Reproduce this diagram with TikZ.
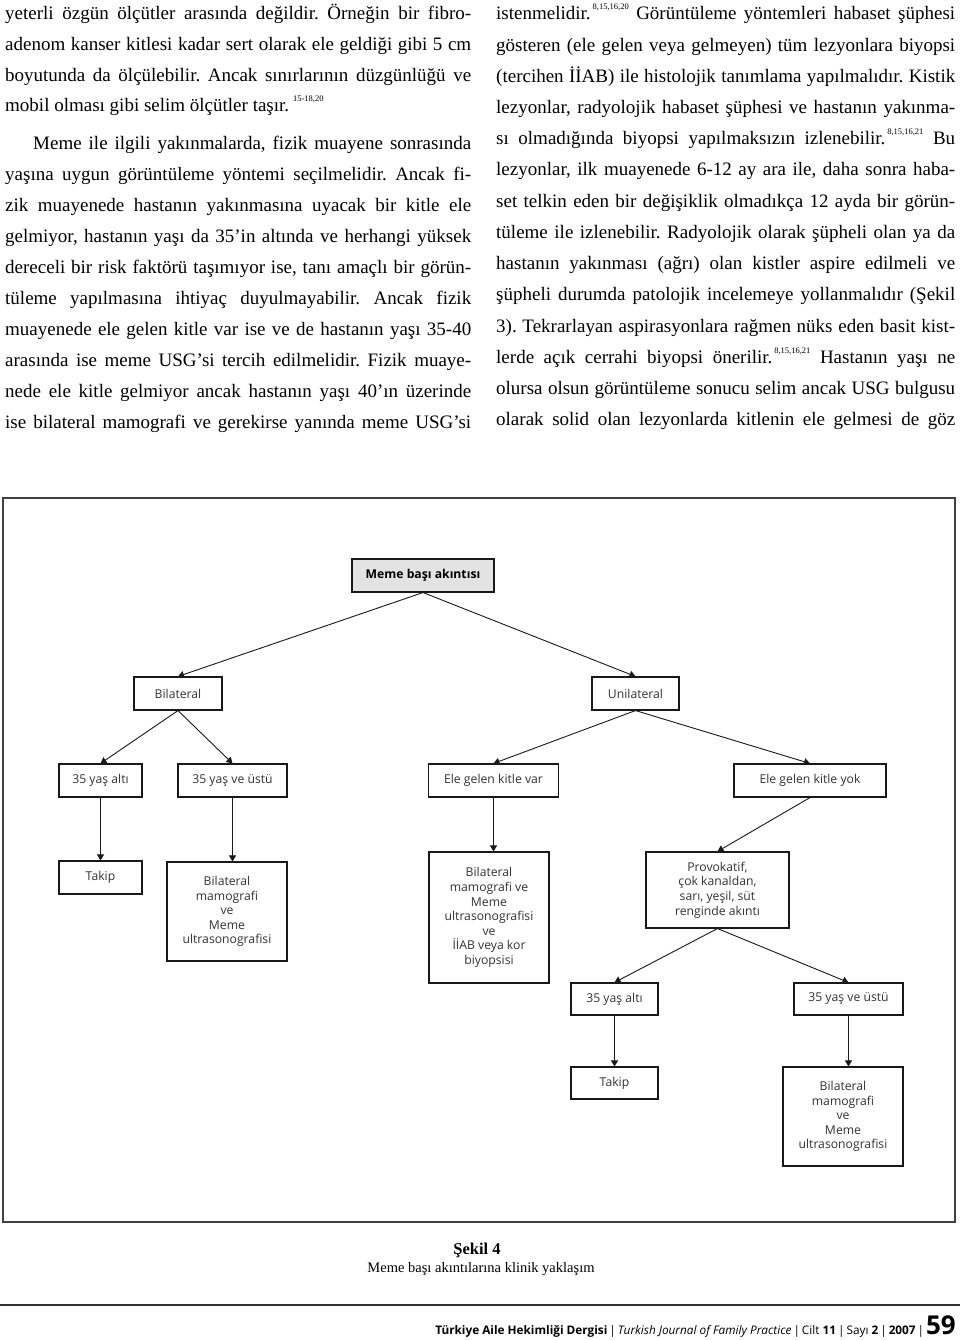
\documentclass[tikz,border=0pt]{standalone}
\usepackage{fontspec}
\setmainfont{Liberation Serif}
\newfontfamily\chartfont{Open Sans}
\usetikzlibrary{arrows.meta}
\frenchspacing

\newcommand{\supnum}[1]{\raisebox{10pt}{\fontsize{8.5}{8.5}\selectfont #1}}

\tikzset{
  txt/.style = {anchor = base west, inner sep = 0pt, font = \fontsize{19}{31}\selectfont},
  box/.style = {draw = black!90, line width = 1.1pt, inner sep = 2pt, minimum height = 33pt,
                align = center, text = black!80, font = \chartfont\fontsize{12.2}{14.6}\selectfont},
  link/.style = {-{Triangle[length=6pt,width=7pt]}, line width = 0.9pt, black!90},
}

\begin{document}
\begin{tikzpicture}[x=1pt, y=-1pt]
      \useasboundingbox (0,0) rectangle (960,1340);
      \fill[white] (0,0) rectangle (960,1340);
      % left column
      \node[txt] at (5,20) (L1) {\makebox[466pt][s]{yeterli özgün ölçütler arasında değildir. Örneğin bir fibro-}};
      \node[txt] at (5,50.7) (L2) {\makebox[466pt][s]{adenom kanser kitlesi kadar sert olarak ele geldiği gibi 5 cm}};
      \node[txt] at (5,81.4) (L3) {\makebox[466pt][s]{boyutunda da ölçülebilir. Ancak sınırlarının düzgünlüğü ve}};
      \node[txt] at (5,112) (L4) {mobil olması gibi selim ölçütler taşır.\hspace{4pt}\supnum{15-18,20}};
      \node[txt] at (33,150) (L5) {\makebox[438pt][s]{Meme ile ilgili yakınmalarda, fizik muayene sonrasında}};
      \node[txt] at (5,180.9) (L6) {\makebox[466pt][s]{yaşına uygun görüntüleme yöntemi seçilmelidir. Ancak fi-}};
      \node[txt] at (5,211.8) (L7) {\makebox[466pt][s]{zik muayenede hastanın yakınmasına uyacak bir kitle ele}};
      \node[txt] at (5,242.7) (L8) {\makebox[466pt][s]{gelmiyor, hastanın yaşı da 35’in altında ve herhangi yüksek}};
      \node[txt] at (5,273.6) (L9) {\makebox[466pt][s]{dereceli bir risk faktörü taşımıyor ise, tanı amaçlı bir görün-}};
      \node[txt] at (5,304.5) (L10) {\makebox[466pt][s]{tüleme yapılmasına ihtiyaç duyulmayabilir. Ancak fizik}};
      \node[txt] at (5,335.4) (L11) {\makebox[466pt][s]{muayenede ele gelen kitle var ise ve de hastanın yaşı 35-40}};
      \node[txt] at (5,366.3) (L12) {\makebox[466pt][s]{arasında ise meme USG’si tercih edilmelidir. Fizik muaye-}};
      \node[txt] at (5,397.2) (L13) {\makebox[466pt][s]{nede ele kitle gelmiyor ancak hastanın yaşı 40’ın üzerinde}};
      \node[txt] at (5,428) (L14) {\makebox[466pt][s]{ise bilateral mamografi ve gerekirse yanında meme USG’si}};
      % right column
      \node[txt] at (496,20) (R1) {\makebox[459pt][s]{istenmelidir.\hspace{2pt}\supnum{8,15,16,20} Görüntüleme yöntemleri habaset şüphesi}};
      \node[txt] at (496,51.2) (R2) {\makebox[459pt][s]{gösteren (ele gelen veya gelmeyen) tüm lezyonlara biyopsi}};
      \node[txt] at (496,82.4) (R3) {\makebox[459pt][s]{(tercihen İİAB) ile histolojik tanımlama yapılmalıdır. Kistik}};
      \node[txt] at (496,113.6) (R4) {\makebox[459pt][s]{lezyonlar, radyolojik habaset şüphesi ve hastanın yakınma-}};
      \node[txt] at (496,144.8) (R5) {\makebox[459pt][s]{sı olmadığında biyopsi yapılmaksızın izlenebilir.\hspace{2pt}\supnum{8,15,16,21} Bu}};
      \node[txt] at (496,176) (R6) {\makebox[459pt][s]{lezyonlar, ilk muayenede 6-12 ay ara ile, daha sonra haba-}};
      \node[txt] at (496,207.2) (R7) {\makebox[459pt][s]{set telkin eden bir değişiklik olmadıkça 12 ayda bir görün-}};
      \node[txt] at (496,238.4) (R8) {\makebox[459pt][s]{tüleme ile izlenebilir. Radyolojik olarak şüpheli olan ya da}};
      \node[txt] at (496,269.6) (R9) {\makebox[459pt][s]{hastanın yakınması (ağrı) olan kistler aspire edilmeli ve}};
      \node[txt] at (496,300.8) (R10) {\makebox[459pt][s]{şüpheli durumda patolojik incelemeye yollanmalıdır (Şekil}};
      \node[txt] at (496,332) (R11) {\makebox[459pt][s]{3). Tekrarlayan aspirasyonlara rağmen nüks eden basit kist-}};
      \node[txt] at (496,363.2) (R12) {\makebox[459pt][s]{lerde açık cerrahi biyopsi önerilir.\hspace{2pt}\supnum{8,15,16,21} Hastanın yaşı ne}};
      \node[txt] at (496,394.4) (R13) {\makebox[459pt][s]{olursa olsun görüntüleme sonucu selim ancak USG bulgusu}};
      \node[txt] at (496,425.6) (R14) {\makebox[459pt][s]{olarak solid olan lezyonlarda kitlenin ele gelmesi de göz}};
      % figure frame
      \draw[black!75, line width=1.2pt] (3,498) rectangle (955,1222);
      % first level
      \node[box, minimum width=142pt, fill=black!11, text=black,
            font=\chartfont\bfseries\fontsize{12.2}{14.6}\selectfont] at (423,575.5) (root) {Meme başı akıntısı};
      % second level
      \node[box, minimum width=88pt] at (178,693.5) (bil) {Bilateral};
      \node[box, minimum width=87pt] at (635.5,693.5) (uni) {Unilateral};
      % third level
      \node[box, minimum width=83pt] at (100.5,780.5) (altiL) {35 yaş altı};
      \node[box, minimum width=109pt] at (232.5,780.5) (ustuL) {35 yaş ve üstü};
      \node[box, minimum width=130pt] at (493.5,780.5) (var) {Ele gelen kitle var};
      \node[box, minimum width=152pt] at (810,780.5) (yok) {Ele gelen kitle yok};
      % fourth level
      \node[box, minimum width=83pt] at (100.5,877.5) (takipL) {Takip};
      \node[box, minimum width=120pt, minimum height=99pt] at (227,911.5) (mamoL)
            {Bilateral\\mamografi\\ve\\Meme\\ultrasonografisi};
      \node[box, minimum width=120pt, minimum height=131pt] at (489,917.5) (biyopsi)
            {Bilateral\\mamografi ve\\Meme\\ultrasonografisi\\ve\\İİAB veya kor\\biyopsisi};
      \node[box, minimum width=143pt, minimum height=76pt] at (717.5,890) (prov)
            {Provokatif,\\çok kanaldan,\\sarı, yeşil, süt\\renginde akıntı};
      % fifth level
      \node[box, minimum width=87pt, minimum height=32pt] at (614.5,999) (altiR) {35 yaş altı};
      \node[box, minimum width=109pt, minimum height=32pt] at (848.5,999) (ustuR) {35 yaş ve üstü};
      % sixth level
      \node[box, minimum width=87pt, minimum height=32pt] at (614.5,1083) (takipR) {Takip};
      \node[box, minimum width=120pt, minimum height=99pt] at (843,1116.5) (mamoR)
            {Bilateral\\mamografi\\ve\\Meme\\ultrasonografisi};
      % arrows
      \draw[link] (root.south) -- (bil.north);
      \draw[link] (root.south) -- (uni.north);
      \draw[link] (bil.south) -- (altiL.north);
      \draw[link] (bil.south) -- (ustuL.north);
      \draw[link] (uni.south) -- (var.north);
      \draw[link] (uni.south) -- (yok.north);
      \draw[link] (altiL.south) -- (takipL.north);
      \draw[link] (ustuL.south) -- (ustuL.south |- mamoL.north);
      \draw[link] (var.south) -- (var.south |- biyopsi.north);
      \draw[link] (yok.south) -- (prov.north);
      \draw[link] (prov.south) -- (altiR.north);
      \draw[link] (prov.south) -- (ustuR.north);
      \draw[link] (altiR.south) -- (takipR.north);
      \draw[link] (ustuR.south) -- (ustuR.south |- mamoR.north);
      % caption
      \node[anchor=base, inner sep=0pt, font=\bfseries\fontsize{16.5}{18}\selectfont] at (477,1254) (fig) {Şekil 4};
      \node[anchor=base, inner sep=0pt, font=\fontsize{14.5}{16}\selectfont] at (481,1272) (figtitle) {Meme başı akıntılarına klinik yaklaşım};
      % footer
      \draw[black!80, line width=1.5pt] (0,1305) -- (960,1305);
      \node[anchor=base east, inner sep=0pt, font=\chartfont\fontsize{11.8}{15}\selectfont] at (956,1334) (footer)
            {\textbf{Türkiye Aile Hekimliği Dergisi}\,|\,\textit{Turkish Journal of Family Practice}\,|\,Cilt \textbf{11}\,|\,Sayı \textbf{2}\,|\,\textbf{2007}\,|\,{\fontsize{26}{26}\selectfont\textbf{59}}};
\end{tikzpicture}
\end{document}
